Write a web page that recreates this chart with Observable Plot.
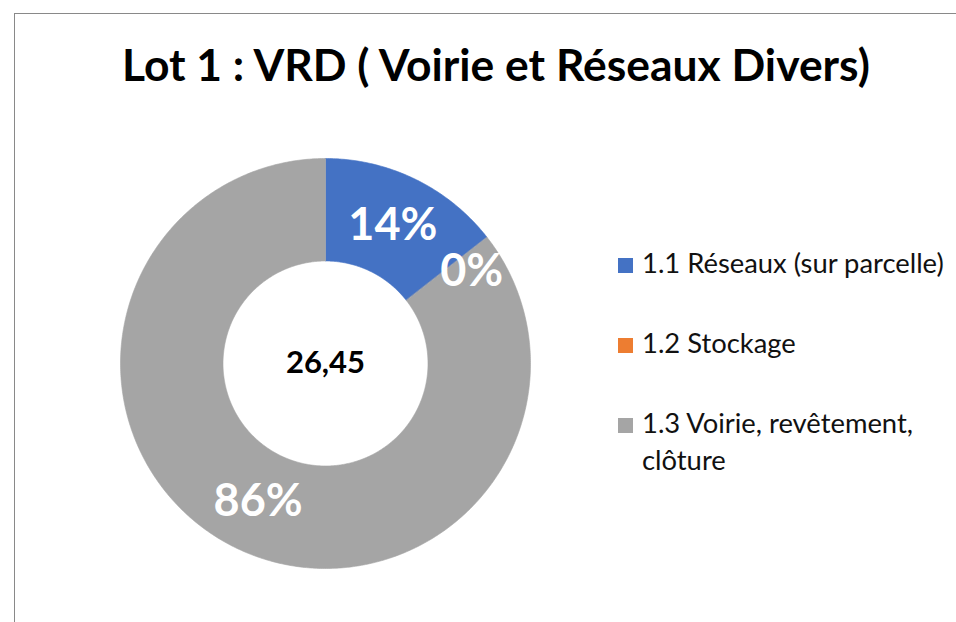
<!DOCTYPE html>
<html>
<head>
<meta charset="utf-8">
<script src="https://cdn.jsdelivr.net/npm/d3@7"></script>
<script src="https://cdn.jsdelivr.net/npm/@observablehq/plot@0.6"></script>
<style>
  body { margin: 0; background: #fff; }
  #wrap { position: relative; width: 956px; height: 622px; overflow: hidden; font-family: Lato, "Open Sans", sans-serif; }
  #frame { position: absolute; left: 14px; top: 13px; width: 1200px; height: 900px; border-left: 1px solid #898989; border-top: 1px solid #898989; }
  #title { position: absolute; left: 122px; white-space: nowrap; font-weight: 700; color: #000; line-height: 1; }
  #chart { position: absolute; left: 0; top: 0; }
  .lg-sw { position: absolute; width: 15px; height: 15px; }
  .lg-tx { position: absolute; left: 642px; width: 312px; color: #111; line-height: 37px; }
</style>
</head>
<body>
<div id="wrap">
  <div id="frame"></div>
  <div id="chart"></div>
  <div id="title"></div>
  <div id="legend"></div>
</div>
<script>
// ---- data ----
const titleText = "Lot 1 : VRD ( Voirie et Réseaux Divers)";
const categories = ["1.1 Réseaux (sur parcelle)", "1.2 Stockage", "1.3 Voirie, revêtement, clôture"];
const values = [3.82, 0, 22.63];
const percentLabels = ["14%", "0%", "86%"];
const total = 26.45;
const colors = ["#4472C4", "#ED7D31", "#A5A5A5"];

// ---- build slices ----
const rows = categories.map((c, i) => ({cat: c, value: values[i], label: percentLabels[i]}));
const arcs = d3.pie().sort(null).value(d => d.value)(rows);
const rOuter = 1, rInner = 0.5, rLabel = 0.75;
const pts = [];
for (const a of arcs) {
  if (a.endAngle - a.startAngle <= 0) continue;
  const n = Math.max(2, Math.ceil((a.endAngle - a.startAngle) / 0.01));
  for (let k = 0; k <= n; k++) {
    const t = a.startAngle + (a.endAngle - a.startAngle) * k / n;
    pts.push({cat: a.data.cat, x: rOuter * Math.sin(t), y: rOuter * Math.cos(t)});
  }
  for (let k = n; k >= 0; k--) {
    const t = a.startAngle + (a.endAngle - a.startAngle) * k / n;
    pts.push({cat: a.data.cat, x: rInner * Math.sin(t), y: rInner * Math.cos(t)});
  }
}
const labels = arcs.map(a => {
  const m = (a.startAngle + a.endAngle) / 2;
  return {cat: a.data.cat, label: a.data.label, x: rLabel * Math.sin(m), y: rLabel * Math.cos(m), tiny: a.data.value / total < 0.01};
});

const cx = 325, cy = 363, R = 205;
const plot = Plot.plot({
  width: 956,
  height: 622,
  margin: 0,
  style: {background: "transparent", overflow: "visible"},
  x: {domain: [-1, 1], range: [cx - R, cx + R], axis: null},
  y: {domain: [-1, 1], range: [cy + R, cy - R], axis: null},
  color: {domain: categories, range: colors},
  marks: [
    Plot.line(pts, {x: "x", y: "y", z: "cat", fill: "cat", stroke: "cat", strokeWidth: 0.6, curve: "linear-closed"}),
    Plot.text(labels.filter(d => !d.tiny), {x: "x", y: "y", text: "label", fill: "white", fontSize: 45, fontWeight: 700, fontFamily: "Lato, sans-serif"}),
    Plot.text(labels.filter(d => d.tiny), {x: "x", y: "y", text: "label", fill: "white", fontSize: 45, fontWeight: 700, fontFamily: "Lato, sans-serif", dx: 25, dy: 3}),
    Plot.text([total], {x: () => 0, y: () => 0, text: d => d3.format(".2f")(d).replace(".", ","), fill: "black", fontSize: 31, fontWeight: 700, fontFamily: "Lato, sans-serif"})
  ]
});
document.getElementById("chart").appendChild(plot);

// ---- title ----
const title = document.getElementById("title");
title.textContent = titleText;
function fitFont(el, target) {
  el.style.fontSize = "40px";
  el.style.display = "inline-block";
  const w = el.getBoundingClientRect().width;
  const fs = 40 * target / w;
  el.style.fontSize = fs + "px";
  return fs;
}
const tfs = fitFont(title, 748);
title.style.top = (81 - 0.887 * tfs) + "px";

// ---- legend ----
const legend = document.getElementById("legend");
const probe = document.createElement("span");
probe.style.cssText = "position:absolute;visibility:hidden;white-space:nowrap;font-family:Lato,'Open Sans',sans-serif;";
probe.textContent = categories[0];
document.body.appendChild(probe);
const lfs = fitFont(probe, 302);
probe.remove();
categories.forEach((c, i) => {
  const base = 273 + i * 80;
  const sw = document.createElement("div");
  sw.className = "lg-sw";
  sw.style.left = "618px";
  sw.style.top = (base - 15) + "px";
  sw.style.background = colors[i];
  legend.appendChild(sw);
  const tx = document.createElement("div");
  tx.className = "lg-tx";
  tx.style.fontSize = lfs + "px";
  tx.textContent = c;
  tx.style.top = (base - ((37 - 1.2 * lfs) / 2 + 0.987 * lfs)) + "px";
  legend.appendChild(tx);
});
</script>
</body>
</html>
